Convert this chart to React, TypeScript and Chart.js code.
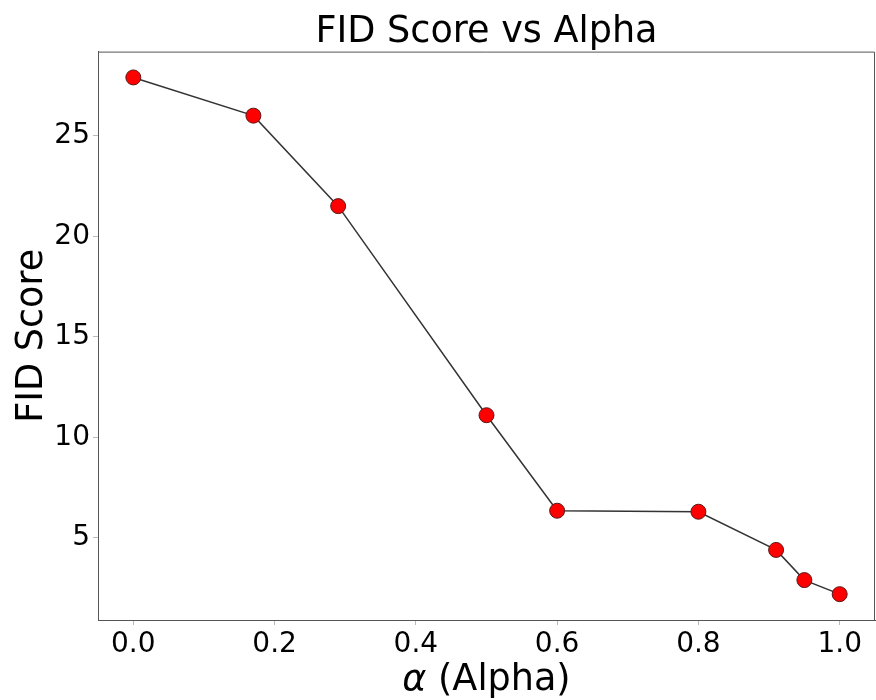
import React, { useEffect, useRef } from "react";
import { Chart, registerables } from "chart.js";

Chart.register(...registerables);

const alphaValues = [0.0, 0.17, 0.29, 0.5, 0.6, 0.8, 0.91, 0.95, 1.0];
const fidScores = [27.9, 26.0, 21.5, 11.1, 6.35, 6.3, 4.4, 2.9, 2.2];
const xTickValues = [0.0, 0.2, 0.4, 0.6, 0.8, 1.0];
const yTickValues = [5, 10, 15, 20, 25];
const xTitleSymbol = "α";
const xTitleRest = " (Alpha)";

const FONT = "'DejaVu Sans', sans-serif";

export default function App() {
  const ref = useRef<HTMLCanvasElement | null>(null);

  useEffect(() => {
    if (!ref.current) return;
    const ymin = Math.min(...fidScores);
    const ymax = Math.max(...fidScores);
    const yr = ymax - ymin;
    const chart = new Chart(ref.current, {
      type: "line",
      data: {
        datasets: [
          {
            data: alphaValues.map((x, i) => ({ x, y: fidScores[i] })),
            borderColor: "#333333",
            borderWidth: 1.5,
            pointBackgroundColor: "#ff0000",
            pointBorderColor: "#5a1a1a",
            pointBorderWidth: 1,
            pointRadius: 7.5,
            tension: 0,
            clip: false,
          },
        ],
      },
      options: {
        responsive: false,
        animation: false,
        layout: { autoPadding: false, padding: { left: 0, right: 1, top: 0, bottom: 0 } },
        plugins: {
          legend: { display: false },
          tooltip: { enabled: false },
          title: {
            display: true,
            text: "FID Score vs Alpha",
            color: "#000",
            fullSize: false,
            font: { family: FONT, size: 36.6, weight: "normal", lineHeight: 1 },
            padding: { top: 14, bottom: 1 },
          },
        },
        scales: {
          x: {
            type: "linear",
            min: -0.05,
            max: 1.05,
            afterBuildTicks: (s: any) => {
              s.ticks = xTickValues.map((v) => ({ value: v }));
            },
            afterFit: (s: any) => {
              s.height = 80;
              s.paddingLeft = 0;
              s.paddingRight = 0;
            },
            grid: {
              drawOnChartArea: false,
              drawTicks: true,
              tickLength: 5,
              color: "#bbbbbb",
            },
            border: { display: true, color: "#555555", width: 1 },
            ticks: {
              color: "#000",
              padding: 3,
              maxRotation: 0,
              font: { family: FONT, size: 28 },
              callback: (v: any) => Number(v).toFixed(1),
            },
            title: { display: false },
          },
          y: {
            type: "linear",
            min: ymin - yr * 0.05,
            max: ymax + yr * 0.05,
            afterBuildTicks: (s: any) => {
              s.ticks = yTickValues.map((v) => ({ value: v }));
            },
            afterFit: (s: any) => {
              s.width = 98;
              s.paddingTop = 0;
              s.paddingBottom = 0;
            },
            grid: {
              drawOnChartArea: false,
              drawTicks: true,
              tickLength: 5,
              color: "#bbbbbb",
            },
            border: { display: true, color: "#555555", width: 1 },
            ticks: {
              color: "#000",
              padding: 3,
              font: { family: FONT, size: 28 },
              callback: (v: any) => String(v),
            },
            title: {
              display: true,
              text: "FID Score",
              color: "#000",
              font: { family: FONT, size: 36.6, lineHeight: 1 },
              padding: { top: 14, bottom: 0 },
            },
          },
        },
      },
      plugins: [
        {
          id: "frameAndXTitle",
          afterDraw(c: any) {
            const { ctx, chartArea } = c;
            ctx.save();
            ctx.strokeStyle = "#555555";
            ctx.lineWidth = 1;
            ctx.beginPath();
            ctx.moveTo(chartArea.left, chartArea.top + 0.5);
            ctx.lineTo(chartArea.right - 0.5, chartArea.top + 0.5);
            ctx.lineTo(chartArea.right - 0.5, chartArea.bottom);
            ctx.stroke();

            // x-axis title: italic alpha + regular text
            const italicFont = `italic 36.6px ${FONT}`;
            const normalFont = `normal 36.6px ${FONT}`;
            ctx.font = italicFont;
            const w1 = ctx.measureText(xTitleSymbol).width;
            ctx.font = normalFont;
            const w2 = ctx.measureText(xTitleRest).width;
            const cx = (chartArea.left + chartArea.right) / 2;
            const startX = cx - (w1 + w2) / 2;
            const baseY = c.height - 10;
            ctx.fillStyle = "#000";
            ctx.textBaseline = "alphabetic";
            ctx.textAlign = "left";
            ctx.font = italicFont;
            ctx.fillText(xTitleSymbol, startX, baseY);
            ctx.font = normalFont;
            ctx.fillText(xTitleRest, startX + w1, baseY);
            ctx.restore();
          },
        },
      ],
    } as any);
    return () => chart.destroy();
  }, []);

  return (
    <div style={{ position: "absolute", left: 0, top: 0, width: 876, height: 700, background: "#fff" }}>
      <canvas ref={ref} width={876} height={700} />
    </div>
  );
}
